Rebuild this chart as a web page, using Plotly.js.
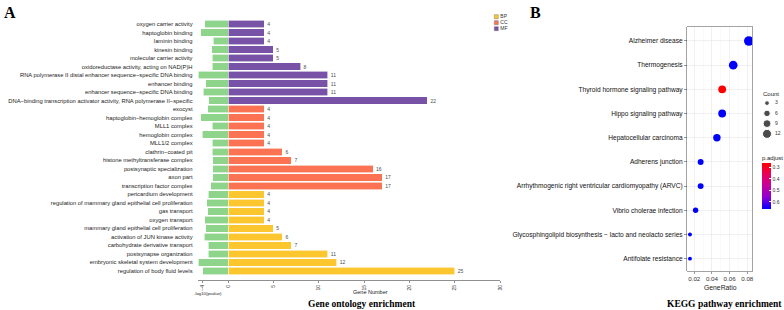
<!DOCTYPE html>
<html><head><meta charset="utf-8">
<script src="https://cdn.plot.ly/plotly-3.0.1.min.js"></script>
<style>html,body{margin:0;padding:0;background:#fff}#chart{width:784px;height:310px}</style>
</head><body><div id="chart"></div>
<script>
// ---------- Panel A: GO enrichment (top-to-bottom order) ----------
const mfTerms = ["oxygen carrier activity","haptoglobin binding","laminin binding","kinesin binding","molecular carrier activity","oxidoreductase activity, acting on NAD(P)H","RNA polymerase II distal enhancer sequence−specific DNA binding","enhancer binding","enhancer sequence−specific DNA binding","DNA−binding transcription activator activity, RNA polymerase II−specific"];
const mfCounts = [4,4,4,5,5,8,11,11,11,22];
const mfLogP = [3.57,4.23,2.28,2.53,2.48,2.48,4.60,3.46,3.83,2.95];

const ccTerms = ["exocyst","haptoglobin−hemoglobin complex","MLL1 complex","hemoglobin complex","MLL1/2 complex","clathrin−coated pit","histone methyltransferase complex","postsynaptic specialization","axon part","transcription factor complex"];
const ccCounts = [4,4,4,4,4,6,7,16,17,17];
const ccLogP = [3.15,4.19,2.43,3.98,2.43,2.43,2.37,2.37,2.37,2.64];

const bpTerms = ["pericardium development","regulation of mammary gland epithelial cell proliferation","gas transport","oxygen transport","mammary gland epithelial cell proliferation","activation of JUN kinase activity","carbohydrate derivative transport","postsynapse organization","embryonic skeletal system development","regulation of body fluid levels"];
const bpCounts = [4,4,4,4,5,6,7,11,12,25];
const bpLogP = [3.10,3.30,3.18,3.57,3.49,3.72,3.10,3.10,4.65,3.88];

const ontologies = ["BP","CC","MF"];
const geneTicks = [5,10,15,20,25,30];
const logPTicks = [-4,0];

// ---------- Panel B: KEGG (top-to-bottom order) ----------
const keggTerms = ["Alzheimer disease","Thermogenesis","Thyroid hormone signaling pathway","Hippo signaling pathway","Hepatocellular carcinoma","Adherens junction","Arrhythmogenic right ventricular cardiomyopathy (ARVC)","Vibrio cholerae infection","Glycosphingolipid biosynthesis − lacto and neolacto series","Antifolate resistance"];
const geneRatio = [0.0818,0.0641,0.0516,0.0516,0.0456,0.0272,0.0272,0.0215,0.0151,0.0151];
const keggCount = [14,11,9,9,8,5,5,4,2,2];
const pAdjust = [0.667,0.667,0.266,0.667,0.667,0.667,0.667,0.667,0.667,0.667];
const ratioTicks = [0.02,0.04,0.06,0.08];
const ratioMinor = [0.03,0.05,0.07];
const countBreaks = [3,6,9,12];
const pTicks = [0.3,0.4,0.5,0.6];

// ---------- helpers ----------
const W = 784, H = 310;
const px = x => x / W;
const py = y => 1 - y / H;
const colors = {BP:"#fcc62f", CC:"#fb7353", MF:"#7752a6"};
const green = "#8fd48b";
const allTerms = mfTerms.concat(ccTerms, bpTerms);
const allLogP = mfLogP.concat(ccLogP, bpLogP);
const sizeOf = c => 2.48 * Math.sqrt(c) + 0.4;
const sansFont = "Liberation Sans, Arial, sans-serif";
const serifFont = "Liberation Serif, Times New Roman, serif";
const pMin = Math.min(...pAdjust), pMax = Math.max(...pAdjust);

const traces = [];
traces.push({
  type:"bar", orientation:"h", x: allLogP.map(v => -v), y: allTerms,
  xaxis:"x", yaxis:"y", marker:{color:green, line:{color:"#ffffff", width:0.6}},
  showlegend:false, hoverinfo:"skip"
});
const groups = {MF:[mfTerms, mfCounts], CC:[ccTerms, ccCounts], BP:[bpTerms, bpCounts]};
for (const k of ["MF","CC","BP"]) {
  traces.push({
    type:"bar", orientation:"h", x: groups[k][1], y: groups[k][0],
    xaxis:"x2", yaxis:"y", name:k,
    marker:{color:colors[k], line:{color:"#ffffff", width:0.6}},
    text: groups[k][1].map(String), textposition:"outside", constraintext:"none",
    textfont:{size:5, color:"#4d4d4d", family:sansFont}, cliponaxis:false,
    showlegend:false, hoverinfo:"skip"
  });
}
// GO legend keys
traces.push({
  type:"scatter", mode:"markers", x: ontologies.map(() => 0), y: ontologies,
  xaxis:"x5", yaxis:"y5", showlegend:false, hoverinfo:"skip", cliponaxis:false,
  marker:{symbol:"square", size:4, color: ontologies.map(k => colors[k]), line:{color:"#666", width:0.4}}
});
traces.push({
  type:"scatter", mode:"text", x: ontologies.map(() => 4), y: ontologies, text: ontologies,
  textposition:"middle right", xaxis:"x5", yaxis:"y5", showlegend:false, hoverinfo:"skip", cliponaxis:false,
  marker:{size:1}, textfont:{size:5, color:"#333", family:sansFont}
});
// KEGG dots (colour axis negated so the colour bar reads 0.3 at the top, like the reference)
traces.push({
  type:"scatter", mode:"markers", x: geneRatio, y: keggTerms, xaxis:"x3", yaxis:"y3",
  showlegend:false, hoverinfo:"skip",
  marker:{
    size: keggCount.map(sizeOf), color: pAdjust.map(v => -v), cmin:-pMax, cmax:-pMin,
    colorscale:[[0,"#0000ff"],[0.25,"#8d00d3"],[0.5,"#c3009e"],[0.75,"#e8005e"],[1,"#ff0000"]],
    line:{width:0}, opacity:1,
    colorbar:{
      x:px(762), xanchor:"left", y:py(152.5), yanchor:"top",
      len:57, lenmode:"pixels", thickness:9.3, thicknessmode:"pixels",
      outlinewidth:0, tickvals:pTicks.map(v => -v), ticktext:pTicks.map(String),
      ticks:"inside", ticklen:2, tickcolor:"#ffffff",
      tickfont:{size:5, color:"#333", family:sansFont}, xpad:0, ypad:0,
      title:{text:"p.adjust", side:"top", font:{size:6, color:"#222", family:sansFont}}
    }
  }
});
// Count legend
traces.push({
  type:"scatter", mode:"markers", x: countBreaks.map(() => 0), y: countBreaks.map(String),
  xaxis:"x4", yaxis:"y4", showlegend:false, hoverinfo:"skip", cliponaxis:false,
  marker:{size: countBreaks.map(sizeOf), color:"#000"}
});
traces.push({
  type:"scatter", mode:"text", x: countBreaks.map(() => 8), y: countBreaks.map(String),
  text: countBreaks.map(String), textposition:"middle right",
  xaxis:"x4", yaxis:"y4", showlegend:false, hoverinfo:"skip", cliponaxis:false,
  marker:{size:1}, textfont:{size:5, color:"#333", family:sansFont}
});

const layout = {
  width:W, height:H, margin:{l:0,r:0,t:0,b:0}, paper_bgcolor:"#fff", plot_bgcolor:"rgba(0,0,0,0)",
  barmode:"stack", bargap:0.12, showlegend:false,
  font:{family:sansFont, color:"#222"},
  xaxis:{domain:[px(197.7), px(228)], range:[-4.7, 0], anchor:"y", tickvals:logPTicks,
    tickangle:-90, showgrid:false, zeroline:false, showline:true, linecolor:"#222", linewidth:0.5,
    ticks:"outside", ticklen:2.5, tickwidth:0.5, tickcolor:"#222",
    tickfont:{size:5, color:"#333"}, fixedrange:true},
  xaxis2:{domain:[px(228), px(500)], range:[0, 30], anchor:"y", tickvals:geneTicks,
    tickangle:-90, showgrid:false, zeroline:false, showline:true, linecolor:"#222", linewidth:0.5,
    ticks:"outside", ticklen:2.5, tickwidth:0.5, tickcolor:"#222",
    tickfont:{size:5, color:"#333"}, fixedrange:true},
  yaxis:{domain:[py(280), py(18.9)], type:"category", categoryorder:"array", categoryarray:allTerms,
    range:[30.06, -0.6], anchor:"x", showgrid:false, zeroline:false, showline:false,
    ticks:"outside", ticklen:3, tickcolor:"rgba(0,0,0,0)",
    tickfont:{size:5.8, color:"#222"}, fixedrange:true},
  xaxis5:{domain:[px(490), px(520)], range:[-6.3, 23.7], anchor:"y5", visible:false, fixedrange:true},
  yaxis5:{domain:[py(31.7), py(13.7)], type:"category", categoryorder:"array", categoryarray:ontologies,
    range:[2.5, -0.5], anchor:"x5", visible:false, fixedrange:true},
  xaxis3:{domain:[px(687.3), px(752.3)], range:[0.0121, 0.0857], anchor:"y3", tickvals:ratioTicks,
    showgrid:true, gridcolor:"#e6e6e6", gridwidth:0.6, zeroline:false,
    minor:{tickvals:ratioMinor, showgrid:true, gridcolor:"#f3f3f3", gridwidth:0.4},
    showline:true, mirror:true, linecolor:"#8c8c8c", linewidth:0.8,
    ticks:"outside", ticklen:2, tickwidth:0.5, tickcolor:"#333",
    tickfont:{size:6.2, color:"#333"}, fixedrange:true},
  yaxis3:{domain:[py(271), py(26.7)], type:"category", categoryorder:"array", categoryarray:keggTerms,
    range:[9.51, -0.59], anchor:"x3", showgrid:true, gridcolor:"#e6e6e6", gridwidth:0.6, zeroline:false,
    showline:true, mirror:true, linecolor:"#8c8c8c", linewidth:0.8,
    ticks:"outside", ticklen:2.5, tickwidth:0.5, tickcolor:"#333",
    tickfont:{size:6.6, color:"#111"}, fixedrange:true},
  xaxis4:{domain:[px(758), px(784)], range:[-9, 17], anchor:"y4", visible:false, fixedrange:true},
  yaxis4:{domain:[py(139), py(98)], type:"category", categoryorder:"array", categoryarray:countBreaks.map(String),
    range:[3.5, -0.5], anchor:"x4", visible:false, fixedrange:true},
  annotations:[
    {text:"<b>A</b>", x:px(2), y:py(2), xref:"paper", yref:"paper", xanchor:"left", yanchor:"top", showarrow:false,
      font:{family:serifFont, size:16, color:"#000"}},
    {text:"<b>B</b>", x:px(528), y:py(2), xref:"paper", yref:"paper", xanchor:"left", yanchor:"top", showarrow:false,
      font:{family:serifFont, size:16, color:"#000"}},
    {text:"Gene Number", x:px(370), y:py(292), xref:"paper", yref:"paper", xanchor:"center", yanchor:"middle", showarrow:false,
      font:{size:5.5, color:"#222"}},
    {text:"-log10(pvalue)", x:px(208), y:py(293), xref:"paper", yref:"paper", xanchor:"center", yanchor:"middle", showarrow:false,
      font:{size:4.3, color:"#222"}},
    {text:"<b>Gene ontology enrichment</b>", x:px(362), y:py(304), xref:"paper", yref:"paper", xanchor:"center", yanchor:"middle", showarrow:false,
      font:{family:serifFont, size:9.5, color:"#000"}},
    {text:"GeneRatio", x:px(720), y:py(287.5), xref:"paper", yref:"paper", xanchor:"center", yanchor:"middle", showarrow:false,
      font:{size:6.8, color:"#222"}},
    {text:"<b>KEGG pathway enrichment</b>", x:px(724), y:py(304), xref:"paper", yref:"paper", xanchor:"center", yanchor:"middle", showarrow:false,
      font:{family:serifFont, size:9.5, color:"#000"}},
    {text:"Count", x:px(761), y:py(93.7), xref:"paper", yref:"paper", xanchor:"left", yanchor:"middle", showarrow:false,
      font:{size:6, color:"#222"}}
  ]
};
Plotly.newPlot("chart", traces, layout, {staticPlot:true, displayModeBar:false});
</script></body></html>
